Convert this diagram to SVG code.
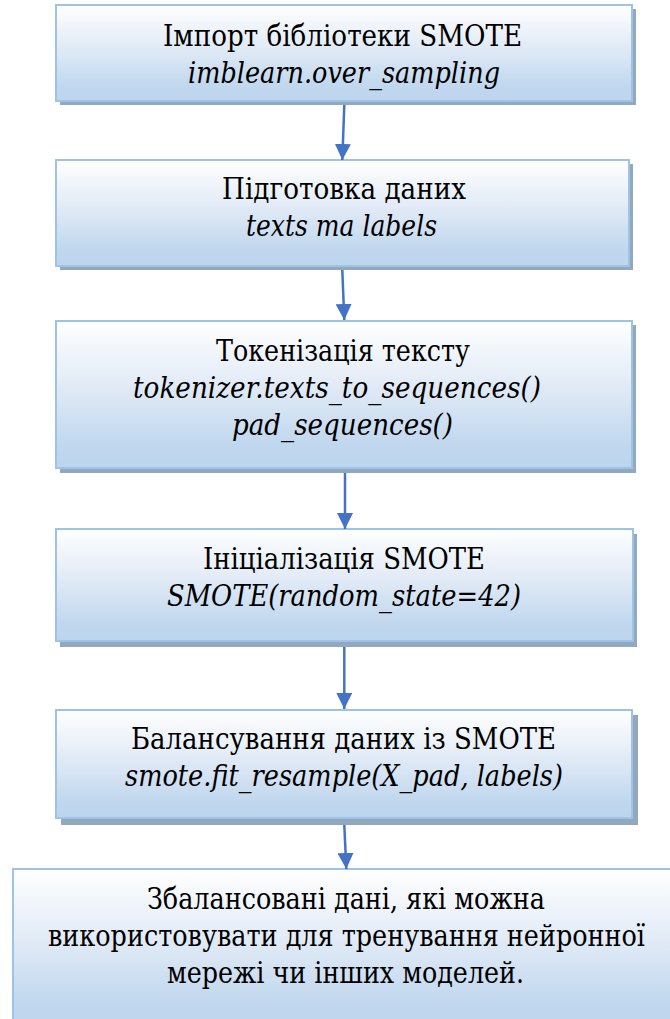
<svg xmlns="http://www.w3.org/2000/svg" width="670" height="1019" viewBox="0 0 670 1019">
<defs>
<linearGradient id="g" x1="0" y1="0" x2="0" y2="1">
<stop offset="0" stop-color="#ffffff"/>
<stop offset="0.5" stop-color="#dde8f5"/>
<stop offset="0.85" stop-color="#c0d7ee"/>
<stop offset="1" stop-color="#bdd5ee"/>
</linearGradient>
<marker id="ah" viewBox="0 0 10 10" refX="10" refY="5" markerWidth="16" markerHeight="16" markerUnits="userSpaceOnUse" orient="auto">
<path d="M0,0 L10,5 L0,10 z" fill="#4472c4"/>
</marker>
</defs>
<style>
.sh{fill:#92a8be}
.bx{fill:url(#g);stroke:#9dc3e6;stroke-width:2}
text{font-family:'DejaVu Serif',serif;font-size:29px;fill:#000;text-anchor:middle}
.i{font-style:italic}
.c{stroke:#4472c4;stroke-width:2.5;fill:none;marker-end:url(#ah)}
</style>
<g id="n1">
<rect class="sh" x="60" y="9" width="576" height="96"/>
<rect class="bx" x="56" y="5" width="576" height="96"/>
<text x="342.5" y="46" textLength="359" lengthAdjust="spacingAndGlyphs">Імпорт бібліотеки SMOTE</text>
<text class="i" x="344" y="83" textLength="312" lengthAdjust="spacingAndGlyphs">imblearn.over_sampling</text>
</g>
<g id="n2">
<rect class="sh" x="60" y="164" width="573" height="106"/>
<rect class="bx" x="56" y="160" width="573" height="106"/>
<text x="344" y="199" textLength="244" lengthAdjust="spacingAndGlyphs">Підготовка даних</text>
<text class="i" x="341.5" y="236" textLength="191" lengthAdjust="spacingAndGlyphs">texts та labels</text>
</g>
<g id="n3">
<rect class="sh" x="60" y="325" width="576" height="148"/>
<rect class="bx" x="56" y="321" width="576" height="147"/>
<text x="343" y="361" textLength="254" lengthAdjust="spacingAndGlyphs">Токенізація тексту</text>
<text class="i" x="337" y="398" textLength="408" lengthAdjust="spacingAndGlyphs">tokenizer.texts_to_sequences()</text>
<text class="i" x="342.5" y="435" textLength="221" lengthAdjust="spacingAndGlyphs">pad_sequences()</text>
</g>
<g id="n4">
<rect class="sh" x="60" y="534" width="577" height="113"/>
<rect class="bx" x="56" y="529" width="577" height="112"/>
<text x="344" y="569" textLength="282" lengthAdjust="spacingAndGlyphs">Ініціалізація SMOTE</text>
<text class="i" x="344" y="606" textLength="354" lengthAdjust="spacingAndGlyphs">SMOTE(random_state=42)</text>
</g>
<g id="n5">
<rect class="sh" x="61" y="715" width="577" height="110"/>
<rect class="bx" x="56" y="710" width="576" height="108"/>
<text x="343.5" y="749" textLength="425" lengthAdjust="spacingAndGlyphs">Балансування даних із SMOTE</text>
<text class="i" x="344" y="786" textLength="438" lengthAdjust="spacingAndGlyphs">smote.fit_resample(X_pad, labels)</text>
</g>
<g id="n6">
<rect class="bx" x="13" y="869" width="667" height="160"/>
<text x="346" y="909" textLength="398" lengthAdjust="spacingAndGlyphs">Збалансовані дані, які можна</text>
<text x="346.5" y="946" textLength="597" lengthAdjust="spacingAndGlyphs">використовувати для тренування нейронної</text>
<text x="345.5" y="983" textLength="357" lengthAdjust="spacingAndGlyphs">мережі чи інших моделей.</text>
</g>
<g id="connectors">
<path class="c" d="M344.3,105 L342.3,160"/>
<path class="c" d="M342.3,270 L344.3,320"/>
<path class="c" d="M345,473 L345,529"/>
<path class="c" d="M344.3,647 L344.3,709"/>
<path class="c" d="M344.3,825 L346.3,869"/>
</g>
</svg>
